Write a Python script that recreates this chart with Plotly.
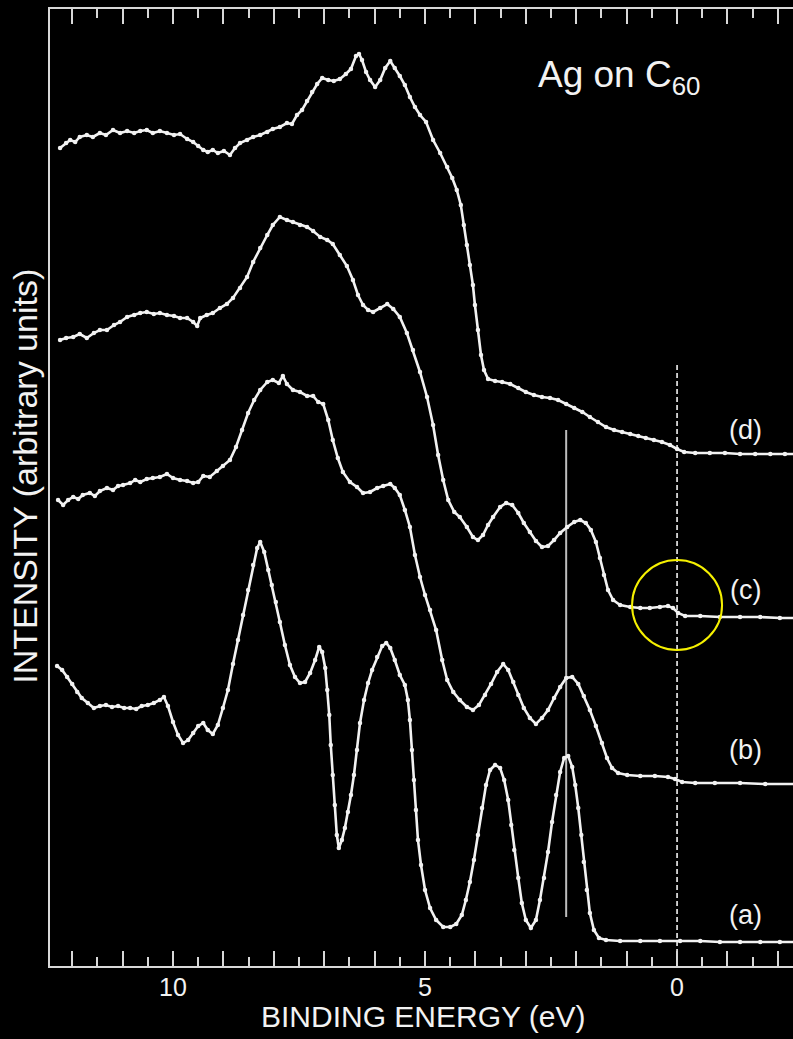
import plotly.graph_objects as go

# ---------------- data (binding energy in eV, intensity in arbitrary units) ----------------
labels = ["(a)", "(b)", "(c)", "(d)"]

energy_d = [12.24, 12.12, 12.04, 11.94, 11.85, 11.71, 11.59, 11.45, 11.33, 11.19, 11.05, 10.91, 10.77, 10.65,
            10.52, 10.40, 10.26, 10.12, 9.98, 9.86, 9.72, 9.60, 9.50, 9.40, 9.31, 9.21, 9.11, 8.99, 8.87, 8.77,
            8.67, 8.53, 8.41, 8.27, 8.13, 8.02, 7.88, 7.74, 7.64, 7.54, 7.44, 7.34, 7.24, 7.14, 7.04, 6.92, 6.81,
            6.69, 6.57, 6.47, 6.37, 6.31, 6.25, 6.17, 6.09, 5.99, 5.89, 5.79, 5.69, 5.60, 5.50, 5.40, 5.30, 5.20,
            5.10, 4.98, 4.84, 4.70, 4.56, 4.46, 4.37, 4.29, 4.23, 4.17, 4.11, 4.05, 4.01, 3.95, 3.89, 3.83, 3.75,
            3.61, 3.47, 3.31, 3.15, 3.00, 2.84, 2.68, 2.52, 2.36, 2.20, 2.04, 1.88, 1.73, 1.57, 1.41, 1.25, 1.09,
            0.93, 0.77, 0.62, 0.46, 0.30, 0.14, 0.00, -0.14, -0.36, -0.65, -0.95, -1.25, -1.55, -1.85, -2.14, -2.34]
intensity_d = [817, 822, 825, 823, 828, 830, 828, 832, 830, 835, 832, 834, 832, 834,
               835, 832, 834, 832, 830, 831, 826, 823, 819, 815, 813, 815, 812, 814, 810, 817,
               822, 825, 828, 830, 833, 836, 838, 842, 841, 850, 855, 864, 873, 881, 887, 885, 884,
               886, 891, 896, 909, 911, 905, 893, 885, 878, 885, 897, 904, 897, 889, 880, 868, 858,
               850, 843, 825, 812, 798, 787, 775, 760, 740, 720, 700, 680, 660, 635, 610, 595, 586,
               584, 583, 581, 577, 573, 570, 568, 567, 565, 561, 557, 553, 548, 543, 538, 535, 533,
               531, 529, 527, 525, 523, 520, 516, 513, 512, 512, 512, 511, 511, 511, 511, 511]

energy_c = [12.24, 12.12, 11.98, 11.85, 11.71, 11.57, 11.45, 11.31, 11.17, 11.05, 10.91, 10.77, 10.65, 10.52,
            10.38, 10.26, 10.12, 9.98, 9.86, 9.72, 9.60, 9.52, 9.46, 9.33, 9.21, 9.07, 8.93, 8.81, 8.67, 8.53,
            8.41, 8.27, 8.13, 8.02, 7.88, 7.74, 7.62, 7.48, 7.34, 7.22, 7.08, 6.94, 6.83, 6.69, 6.55, 6.43,
            6.33, 6.23, 6.13, 6.03, 5.89, 5.75, 5.63, 5.50, 5.36, 5.24, 5.10, 4.96, 4.84, 4.74, 4.64, 4.54,
            4.42, 4.31, 4.17, 4.05, 3.95, 3.85, 3.75, 3.65, 3.51, 3.39, 3.27, 3.15, 3.04, 2.92, 2.80, 2.68,
            2.56, 2.44, 2.32, 2.18, 2.04, 1.92, 1.81, 1.71, 1.61, 1.53, 1.45, 1.37, 1.27, 1.13, 0.93, 0.73,
            0.54, 0.34, 0.18, 0.08, -0.02, -0.16, -0.46, -0.85, -1.25, -1.65, -2.04, -2.34]
intensity_c = [625, 627, 628, 631, 627, 632, 635, 635, 640, 643, 648, 650, 652, 653,
               651, 652, 650, 649, 647, 647, 643, 639, 647, 650, 652, 657, 661, 667, 677, 688,
               703, 717, 730, 740, 748, 745, 743, 740, 738, 734, 728, 725, 721, 710, 699, 685,
               670, 660, 655, 653, 657, 661, 656, 648, 632, 615, 593, 568, 540, 510, 485, 465,
               453, 448, 438, 428, 425, 430, 440, 448, 458, 462, 460, 452, 442, 433, 424, 418,
               419, 425, 432, 438, 443, 445, 442, 435, 423, 407, 390, 375, 365, 360, 358, 357,
               357, 358, 359, 357, 352, 349, 349, 348, 348, 348, 347, 347]

energy_b = [12.28, 12.18, 12.08, 11.98, 11.88, 11.79, 11.65, 11.55, 11.45, 11.31, 11.19, 11.09, 10.99, 10.85,
            10.75, 10.65, 10.52, 10.40, 10.26, 10.12, 10.00, 9.86, 9.72, 9.60, 9.50, 9.40, 9.27, 9.13, 9.01,
            8.87, 8.75, 8.63, 8.51, 8.39, 8.27, 8.13, 8.02, 7.90, 7.82, 7.74, 7.62, 7.48, 7.34, 7.22, 7.12,
            7.02, 6.92, 6.83, 6.73, 6.63, 6.49, 6.35, 6.23, 6.09, 5.95, 5.83, 5.69, 5.60, 5.50, 5.40, 5.30,
            5.20, 5.10, 5.00, 4.90, 4.78, 4.66, 4.56, 4.44, 4.31, 4.17, 4.05, 3.93, 3.81, 3.69, 3.57, 3.45,
            3.35, 3.25, 3.15, 3.04, 2.92, 2.80, 2.68, 2.56, 2.44, 2.32, 2.20, 2.08, 1.96, 1.85, 1.73, 1.61,
            1.49, 1.39, 1.29, 1.17, 0.99, 0.73, 0.44, 0.18, 0.04, -0.10, -0.36, -0.75, -1.25, -1.75, -2.34]
intensity_b = [465, 460, 465, 468, 466, 470, 472, 469, 474, 477, 475, 479, 480, 482,
               485, 483, 486, 487, 488, 491, 487, 485, 484, 482, 483, 489, 488, 494, 499,
               505, 518, 535, 552, 565, 575, 583, 585, 582, 589, 581, 575, 573, 569, 569, 563,
               561, 545, 525, 507, 493, 483, 478, 472, 473, 477, 479, 481, 477, 470, 455, 438,
               410, 388, 370, 355, 335, 305, 285, 273, 265, 258, 255, 260, 270, 281, 293, 301,
               295, 283, 270, 257, 247, 241, 247, 255, 267, 278, 287, 288, 281, 269, 255, 239,
               222, 207, 197, 192, 190, 189, 189, 188, 186, 183, 182, 182, 182, 181, 181]

energy_a = [12.30, 12.20, 12.10, 12.00, 11.90, 11.81, 11.69, 11.57, 11.45, 11.33, 11.21, 11.09, 10.97, 10.85,
            10.73, 10.62, 10.50, 10.38, 10.26, 10.18, 10.10, 10.00, 9.90, 9.80, 9.70, 9.60, 9.50, 9.40, 9.31,
            9.21, 9.11, 9.01, 8.91, 8.81, 8.71, 8.61, 8.51, 8.41, 8.33, 8.27, 8.19, 8.11, 8.04, 7.96, 7.88,
            7.78, 7.68, 7.58, 7.48, 7.38, 7.28, 7.18, 7.10, 7.04, 6.98, 6.94, 6.90, 6.87, 6.83, 6.79, 6.75,
            6.71, 6.65, 6.59, 6.53, 6.47, 6.41, 6.35, 6.29, 6.21, 6.13, 6.05, 5.95, 5.85, 5.77, 5.69, 5.60,
            5.50, 5.40, 5.34, 5.30, 5.26, 5.22, 5.18, 5.14, 5.08, 5.00, 4.90, 4.78, 4.64, 4.50, 4.38, 4.27,
            4.19, 4.11, 4.03, 3.95, 3.87, 3.79, 3.71, 3.61, 3.51, 3.43, 3.35, 3.29, 3.23, 3.15, 3.08, 3.00,
            2.90, 2.80, 2.72, 2.64, 2.56, 2.48, 2.40, 2.32, 2.24, 2.16, 2.08, 2.02, 1.96, 1.90, 1.85, 1.79,
            1.73, 1.65, 1.55, 1.41, 1.13, 0.73, 0.34, -0.06, -0.46, -0.85, -1.25, -1.65, -2.04, -2.34]
intensity_a = [299, 295, 288, 281, 273, 267, 262, 257, 259, 260, 258, 259, 257, 257,
               256, 259, 260, 262, 265, 268, 259, 243, 230, 222, 225, 232, 239, 242, 235,
               231, 240, 257, 275, 301, 325, 350, 375, 400, 417, 423, 413, 395, 380, 363, 343,
               320, 300, 288, 282, 283, 292, 305, 318, 313, 297, 275, 250, 220, 190, 160, 130,
               117, 125, 137, 153, 170, 190, 215, 242, 265, 282, 295, 308, 319, 322, 317, 305,
               290, 280, 265, 245, 215, 185, 155, 125, 100, 75, 57, 45, 38, 38, 41, 50,
               65, 83, 105, 130, 157, 180, 195, 200, 197, 185, 165, 140, 115, 87, 62, 45,
               37, 45, 65, 87, 113, 143, 170, 193, 207, 209, 198, 180, 157, 130, 103, 75,
               52, 35, 27, 25, 24, 24, 24, 24, 24, 23, 23, 23, 23, 23]

# reference lines
fermi_level = 0.0            # dashed line
fermi_line_span = [3, 603]
homo_energy = 2.2            # solid marker line
homo_line_span = [48, 535]

# axis ticks
labelled_ticks = [10, 5, 0]
labelled_text = ["10", "5", "0"]
major_step = 1.0
minor_step = 0.5

# ---------------- figure ----------------
WHITE = "#f2f2f2"
AXIS = "#d8d8d8"
FONT = "Liberation Sans, Arial, Helvetica, sans-serif"

fig = go.Figure()

fig.add_trace(go.Scatter(x=[homo_energy, homo_energy], y=homo_line_span, mode="lines",
                         line=dict(color="#bdbdbd", width=2), hoverinfo="skip", showlegend=False))
# dashed line drawn on the overlay axis so that the labelled tick axis exists
fig.add_trace(go.Scatter(x=[fermi_level, fermi_level], y=fermi_line_span, mode="lines", xaxis="x2",
                         line=dict(color=WHITE, width=1.6, dash="5px,3px"), hoverinfo="skip", showlegend=False))

for name, ex, iy in [("(a)", energy_a, intensity_a), ("(b)", energy_b, intensity_b),
                     ("(c)", energy_c, intensity_c), ("(d)", energy_d, intensity_d)]:
    fig.add_trace(go.Scatter(x=ex, y=iy, mode="lines+markers", name=name,
                             line=dict(color=WHITE, width=2.6),
                             marker=dict(color=WHITE, size=4.5),
                             showlegend=False))

label_pos = {"(d)": 535, "(c)": 375, "(b)": 215, "(a)": 50}
annotations = []
for lab in labels:
    annotations.append(dict(x=-1.35, y=label_pos[lab], xref="x", yref="y", text=lab, showarrow=False,
                            font=dict(family=FONT, size=27, color=WHITE), xanchor="center", yanchor="middle"))
annotations.append(dict(x=0.767, y=0.929, xref="paper", yref="paper", text="Ag on C<sub>60</sub>",
                        showarrow=False, font=dict(family=FONT, size=37, color=WHITE),
                        xanchor="center", yanchor="middle"))
annotations.append(dict(x=0.503, y=-0.053, xref="paper", yref="paper", text="BINDING ENERGY (eV)",
                        showarrow=False, font=dict(family=FONT, size=30, color=WHITE),
                        xanchor="center", yanchor="middle"))
annotations.append(dict(x=-0.034, y=0.512, xref="paper", yref="paper", text="INTENSITY (arbitrary units)",
                        showarrow=False, textangle=-90, font=dict(family=FONT, size=34, color=WHITE),
                        xanchor="center", yanchor="middle"))

fig.add_shape(type="circle", xref="x", yref="y", xsizemode="pixel", ysizemode="pixel",
              xanchor=0, yanchor=360, x0=-45, x1=45, y0=-45, y1=45,
              line=dict(color="#f5f000", width=2))

x_range = [12.44, -2.30]
fig.update_layout(
    width=793, height=1039,
    margin=dict(l=50, r=0, t=9, b=73),
    paper_bgcolor="black", plot_bgcolor="black",
    annotations=annotations,
    xaxis=dict(range=x_range, showgrid=False, zeroline=False,
               showline=True, linecolor=AXIS, linewidth=2, mirror="allticks",
               ticks="inside", ticklen=15, tickwidth=2, tickcolor=AXIS,
               tick0=0, dtick=major_step, showticklabels=False,
               minor=dict(ticks="inside", dtick=minor_step, tick0=0, ticklen=9, tickwidth=2, tickcolor=AXIS)),
    xaxis2=dict(range=x_range, overlaying="x", side="bottom", anchor="y", matches="x",
                showgrid=False, zeroline=False, showline=False, ticks="",
                tickmode="array", tickvals=labelled_ticks, ticktext=labelled_text,
                ticklabelstandoff=4,
                tickfont=dict(family=FONT, size=25, color=WHITE)),
    yaxis=dict(range=[-1, 956], showgrid=False, zeroline=False, showline=True, linecolor=AXIS,
               linewidth=2, ticks="", showticklabels=False),
)

fig.write_html("out.html")
